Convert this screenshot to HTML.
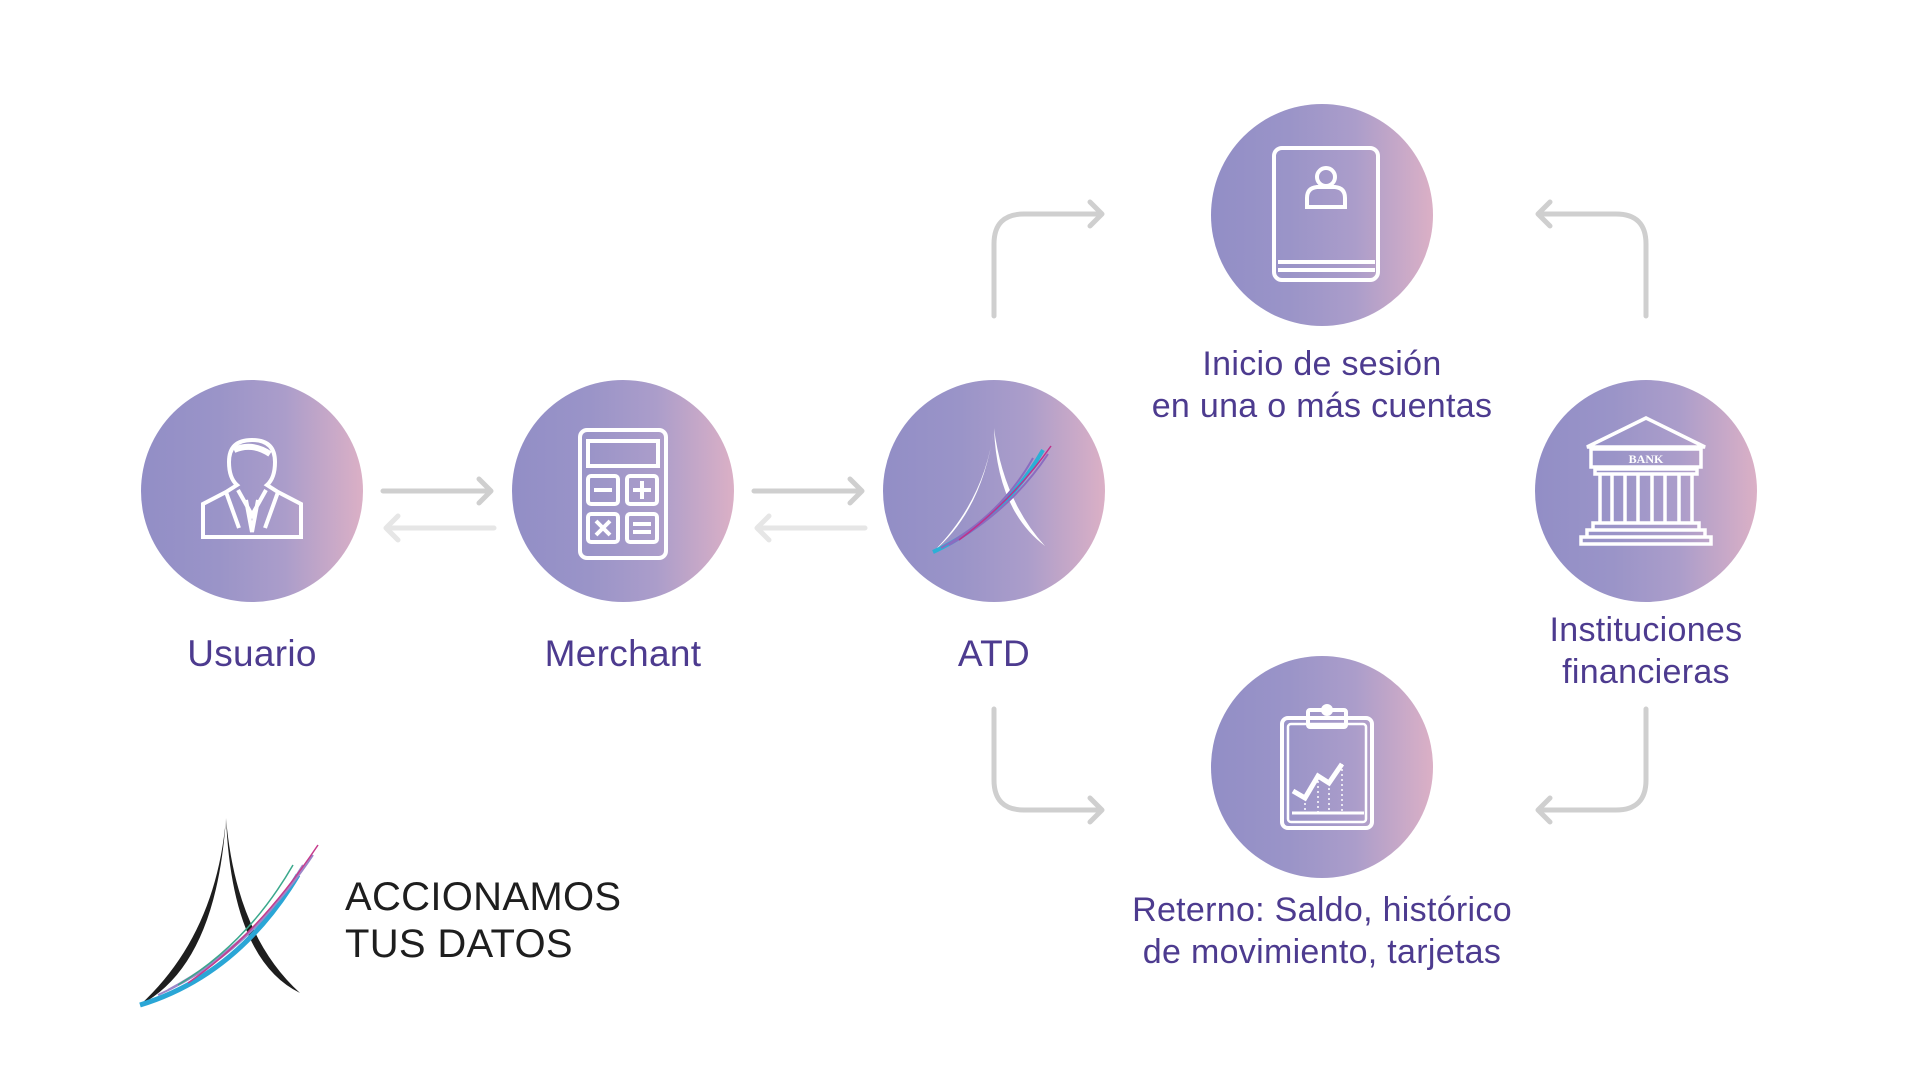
<!DOCTYPE html>
<html><head><meta charset="utf-8"><style>
html,body{margin:0;padding:0;background:#fff;width:1920px;height:1080px;overflow:hidden;font-family:"Liberation Sans",sans-serif}
.c{position:absolute;width:222px;height:222px;border-radius:50%;
background:radial-gradient(circle at 50% 50%,rgba(0,0,0,0) 74%,rgba(60,40,100,.15) 90%,rgba(60,40,100,.35) 100%),linear-gradient(90deg,#928ec6 0%,#9a94c8 35%,#ab9dca 65%,#dbb0c6 100%)}
.c svg{position:absolute;left:0;top:0}
.l{position:absolute;color:#4d3b8f;font-size:34px;text-align:center;line-height:42px;width:500px;letter-spacing:0.3px}
</style></head><body>
<svg width="1920" height="1080" style="position:absolute;left:0;top:0" fill="none" stroke-linecap="round" stroke-linejoin="round">
<g stroke="#cfcfcf" stroke-width="5">
<path d="M383 491H491M479 479L491 491L479 503"/>
<path d="M754 491H862M850 479L862 491L850 503"/>
<path d="M994 316V244Q994 214 1024 214H1102M1090 202L1102 214L1090 226"/>
<path d="M1646 316V244Q1646 214 1616 214H1538M1550 202L1538 214L1550 226"/>
<path d="M994 709V780Q994 810 1024 810H1102M1090 798L1102 810L1090 822"/>
<path d="M1646 709V780Q1646 810 1616 810H1538M1550 798L1538 810L1550 822"/>
</g>
<g stroke="#e6e6e6" stroke-width="5">
<path d="M494 528H386M398 516L386 528L398 540"/>
<path d="M865 528H757M769 516L757 528L769 540"/>
</g>
</svg>

<div class="c" style="left:141px;top:380px"><svg width="222" height="222" fill="none" stroke="#fff" stroke-width="4">
<path d="M62 157V124L85 112L96 105Q88 98 88 82Q88 60 111 60Q134 60 134 82Q134 98 126 105L137 112L160 124V157Z"/>
<path d="M97 110L111 135L125 110M105 120L111 152L117 120M85 112L98 148M137 112L124 148"/>
<path d="M93 70Q111 62 129 74" stroke-width="6"/></svg></div>

<div class="c" style="left:512px;top:380px"><svg width="222" height="222" fill="none" stroke="#fff" stroke-width="4">
<rect x="68" y="50" width="86" height="128" rx="7"/>
<rect x="76" y="61" width="70" height="25"/>
<rect x="76" y="96" width="30" height="28" rx="3"/><rect x="115" y="96" width="30" height="28" rx="3"/>
<rect x="76" y="134" width="30" height="28" rx="3"/><rect x="115" y="134" width="30" height="28" rx="3"/>
<path d="M82 110H100M130 101V119M121 110H139M84 141L98 155M98 141L84 155M121 144H139M121 152H139"/></svg></div>

<div class="c" style="left:883px;top:380px"><svg width="222" height="222" fill="none">
<path d="M111 48Q102 120 50 172Q100 130 111 48Z" fill="#fff"/>
<path d="M111 48Q120 120 162 166Q114 130 111 48Z" fill="#fff"/>
<path d="M50 172Q120 140 160 70" stroke="#2bb0d6" stroke-width="4"/>
<path d="M58 168Q118 135 150 78M66 165Q128 130 165 74" stroke="#8a6cc0" stroke-width="2"/>
<path d="M76 160Q130 120 168 66" stroke="#c0308a" stroke-width="1.5"/></svg></div>

<div class="c" style="left:1211px;top:104px"><svg width="222" height="222" fill="none" stroke="#fff" stroke-width="4">
<rect x="63" y="44" width="104" height="132" rx="8"/>
<path d="M67 158H164M67 166H164"/>
<circle cx="115" cy="73" r="9"/><path d="M96 103V94Q96 84 106 83H124Q134 84 134 94V103Z"/></svg></div>

<div class="c" style="left:1211px;top:656px"><svg width="222" height="222" fill="none" stroke="#fff" stroke-width="4">
<rect x="71" y="62" width="90" height="110" rx="6"/><rect x="77" y="68" width="78" height="98" rx="3" stroke-width="2.5"/>
<rect x="97" y="54" width="38" height="17" rx="2"/><circle cx="116" cy="54" r="4"/>
<path d="M81 157H153" stroke-width="3"/>
<path d="M82 135L94 142L107 120L118 127L131 108" stroke-width="5"/>
<path d="M94 142V157M107 120V157M118 127V157M131 108V157" stroke-width="1.5" stroke-dasharray="2 3"/></svg></div>

<div class="c" style="left:1535px;top:380px"><svg width="222" height="222" fill="none" stroke="#fff" stroke-width="3.5">
<path d="M111 38L52 67H170Z"/><rect x="56" y="69" width="110" height="18"/>
<text x="111" y="83" fill="#fff" stroke="none" font-family="Liberation Serif,serif" font-size="12" font-weight="bold" text-anchor="middle">BANK</text>
<path d="M60 89H162V94H60Z"/>
<path d="M65 94V143M77 94V143M90 94V143M103 94V143M117 94V143M130 94V143M144 94V143M157 94V143"/>
<path d="M58 143H164V150H58ZM52 150H170V157H52ZM46 157H176V164H46Z"/></svg></div>

<div class="l" style="left:2px;top:633px;font-size:37px">Usuario</div>
<div class="l" style="left:373px;top:633px;font-size:37px">Merchant</div>
<div class="l" style="left:744px;top:633px;font-size:37px">ATD</div>
<div class="l" style="left:1072px;top:343px">Inicio de sesión<br>en una o más cuentas</div>
<div class="l" style="left:1396px;top:609px">Instituciones<br>financieras</div>
<div class="l" style="left:1072px;top:889px">Reterno: Saldo, histórico<br>de movimiento, tarjetas</div>

<svg width="240" height="200" style="position:absolute;left:128px;top:815px" fill="none">
<path d="M98 3Q88 120 12 190Q88 150 98 3Z" fill="#1e1e1e"/>
<path d="M98 3Q108 120 172 178Q104 145 98 3Z" fill="#1e1e1e"/>
<path d="M12 190Q110 160 170 60" stroke="#2aa6d6" stroke-width="5"/>
<path d="M30 180Q120 140 175 50M40 175Q125 130 185 40" stroke="#9c86c8" stroke-width="2"/>
<path d="M60 168Q130 120 190 30" stroke="#c63a8c" stroke-width="1.5"/>
<path d="M50 170Q120 128 165 50" stroke="#3aa88c" stroke-width="1.5"/>
</svg>
<div style="position:absolute;left:345px;top:874px;font-size:40px;line-height:47px;color:#1e1e1e;letter-spacing:0.3px">ACCIONAMOS<br>TUS DATOS</div>
</body></html>
